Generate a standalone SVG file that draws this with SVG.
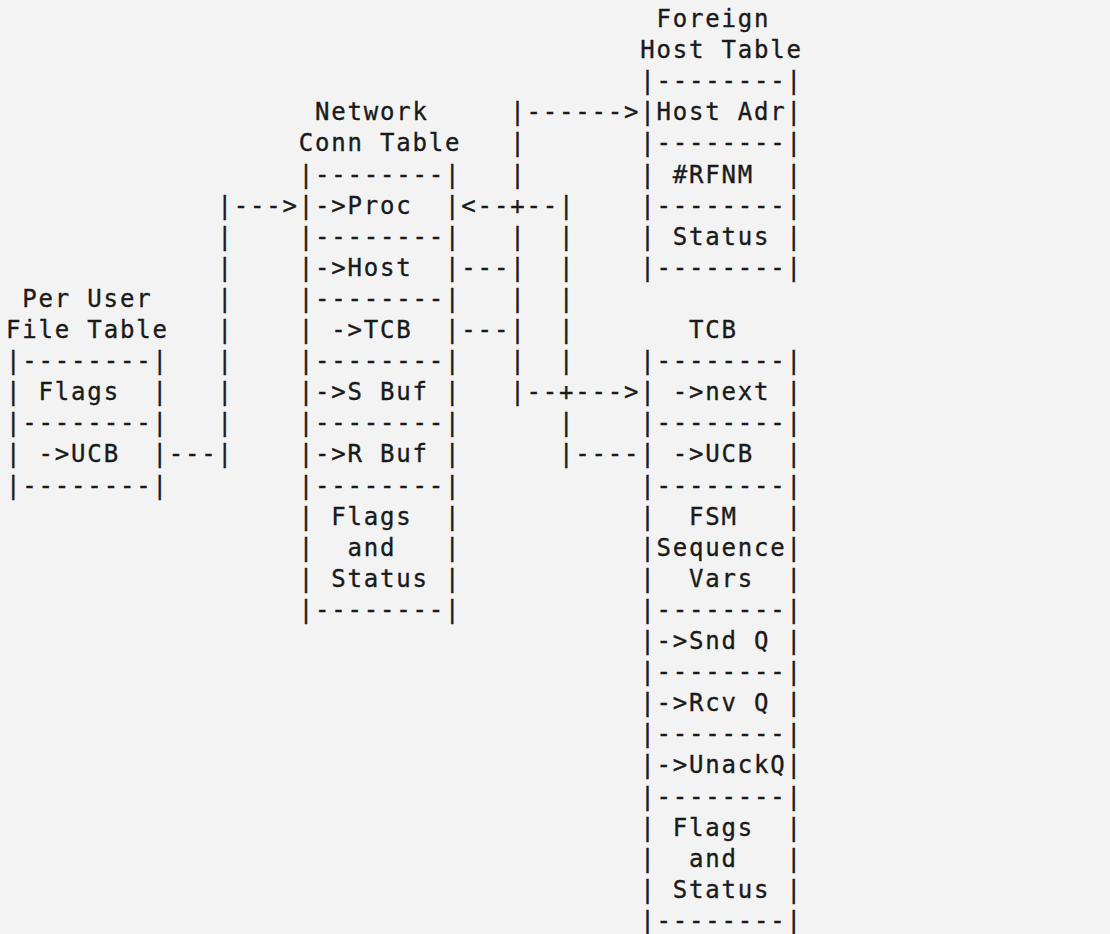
<svg xmlns="http://www.w3.org/2000/svg" width="1110" height="934" viewBox="0 0 1110 934">
<style>
.t{font-family:"DejaVu Sans Mono","Liberation Mono",monospace;font-size:24px;letter-spacing:1.81px;fill:#1a1a1a;stroke:#1a1a1a;stroke-width:0.35px;}
</style>
<rect width="1110" height="934" fill="#f3f3f3"/>
<g id="per-user-file-table" class="t">
<text x="22.34" y="306.9">Per&#160;User</text>
<text x="6.08" y="338">File&#160;Table</text>
<text x="6.08" y="369.1">|--------|</text>
<text x="6.08" y="400.2">|&#160;Flags&#160;&#160;|</text>
<text x="6.08" y="431.3">|--------|</text>
<text x="6.08" y="462.4">|&#160;-&gt;UCB&#160;&#160;|</text>
<text x="6.08" y="493.5">|--------|</text>
</g>
<g id="network-conn-table" class="t">
<text x="315.02" y="120.3">Network</text>
<text x="298.76" y="151.4">Conn&#160;Table</text>
<text x="298.76" y="182.5">|--------|</text>
<text x="298.76" y="213.6">|-&gt;Proc&#160;&#160;|</text>
<text x="298.76" y="244.7">|--------|</text>
<text x="298.76" y="275.8">|-&gt;Host&#160;&#160;|</text>
<text x="298.76" y="306.9">|--------|</text>
<text x="298.76" y="338">|&#160;-&gt;TCB&#160;&#160;|</text>
<text x="298.76" y="369.1">|--------|</text>
<text x="298.76" y="400.2">|-&gt;S&#160;Buf&#160;|</text>
<text x="298.76" y="431.3">|--------|</text>
<text x="298.76" y="462.4">|-&gt;R&#160;Buf&#160;|</text>
<text x="298.76" y="493.5">|--------|</text>
<text x="298.76" y="524.6">|&#160;Flags&#160;&#160;|</text>
<text x="298.76" y="555.7">|&#160;&#160;and&#160;&#160;&#160;|</text>
<text x="298.76" y="586.8">|&#160;Status&#160;|</text>
<text x="298.76" y="617.9">|--------|</text>
</g>
<g id="foreign-host-table" class="t">
<text x="656.48" y="27">Foreign</text>
<text x="640.22" y="58.1">Host&#160;Table</text>
<text x="640.22" y="89.2">|--------|</text>
<text x="640.22" y="120.3">|Host&#160;Adr|</text>
<text x="640.22" y="151.4">|--------|</text>
<text x="640.22" y="182.5">|&#160;#RFNM&#160;&#160;|</text>
<text x="640.22" y="213.6">|--------|</text>
<text x="640.22" y="244.7">|&#160;Status&#160;|</text>
<text x="640.22" y="275.8">|--------|</text>
</g>
<g id="tcb" class="t">
<text x="689" y="338">TCB</text>
<text x="640.22" y="369.1">|--------|</text>
<text x="640.22" y="400.2">|&#160;-&gt;next&#160;|</text>
<text x="640.22" y="431.3">|--------|</text>
<text x="640.22" y="462.4">|&#160;-&gt;UCB&#160;&#160;|</text>
<text x="640.22" y="493.5">|--------|</text>
<text x="640.22" y="524.6">|&#160;&#160;FSM&#160;&#160;&#160;|</text>
<text x="640.22" y="555.7">|Sequence|</text>
<text x="640.22" y="586.8">|&#160;&#160;Vars&#160;&#160;|</text>
<text x="640.22" y="617.9">|--------|</text>
<text x="640.22" y="649">|-&gt;Snd&#160;Q&#160;|</text>
<text x="640.22" y="680.1">|--------|</text>
<text x="640.22" y="711.2">|-&gt;Rcv&#160;Q&#160;|</text>
<text x="640.22" y="742.3">|--------|</text>
<text x="640.22" y="773.4">|-&gt;UnackQ|</text>
<text x="640.22" y="804.5">|--------|</text>
<text x="640.22" y="835.6">|&#160;Flags&#160;&#160;|</text>
<text x="640.22" y="866.7">|&#160;&#160;and&#160;&#160;&#160;|</text>
<text x="640.22" y="897.8">|&#160;Status&#160;|</text>
<text x="640.22" y="928.9">|--------|</text>
</g>
<g id="connectors" class="t">
<g id="ucb-to-proc">
<text x="217.46" y="213.6">|---&gt;</text>
<text x="217.46" y="244.7">|</text>
<text x="217.46" y="275.8">|</text>
<text x="217.46" y="306.9">|</text>
<text x="217.46" y="338">|</text>
<text x="217.46" y="369.1">|</text>
<text x="217.46" y="400.2">|</text>
<text x="217.46" y="431.3">|</text>
<text x="168.68" y="462.4">---|</text>
</g>
<g id="host-tcb-bus">
<text x="510.14" y="120.3">|------&gt;</text>
<text x="510.14" y="151.4">|</text>
<text x="510.14" y="182.5">|</text>
<text x="461.36" y="213.6">&lt;--+--|</text>
<text x="510.14" y="244.7">|&#160;&#160;|</text>
<text x="461.36" y="275.8">---|&#160;&#160;|</text>
<text x="510.14" y="306.9">|&#160;&#160;|</text>
<text x="461.36" y="338">---|&#160;&#160;|</text>
<text x="510.14" y="369.1">|&#160;&#160;|</text>
<text x="510.14" y="400.2">|--+---&gt;</text>
<text x="558.92" y="431.3">|</text>
<text x="558.92" y="462.4">|----</text>
</g>
</g>
</svg>
